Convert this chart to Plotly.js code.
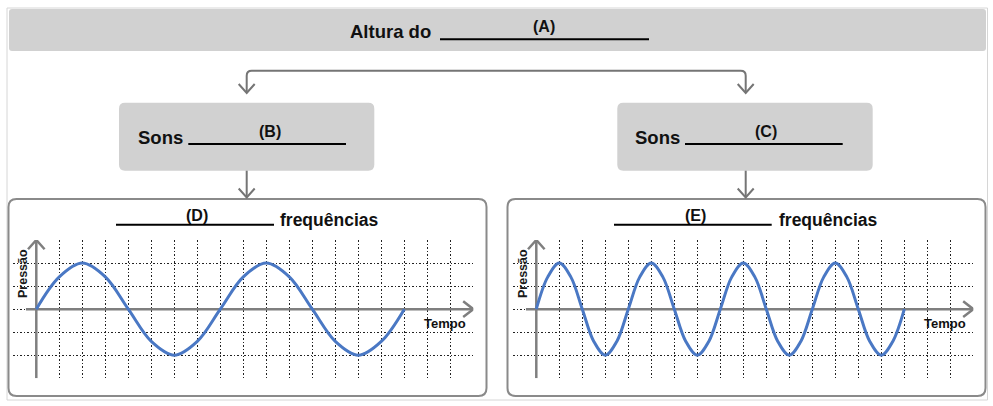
<!DOCTYPE html>
<html>
<head>
<meta charset="utf-8">
<script src="https://cdn.plot.ly/plotly-3.0.1.min.js"></script>
<style>body{margin:0;background:#fff}#chart{width:993px;height:406px}</style>
</head>
<body>
<div id="chart"></div>
<script>
// ---- data (one grid cell = 1 unit) ----
const timeD = [0,1,2,3,4,5,6,7,8,9,10,11,12,13,14,15,16];
const pressureD = [0,1.4,2,1.4,0,-1.4,-2,-1.4,0,1.4,2,1.4,0,-1.4,-2,-1.4,0];
const timeE = [0,0.5,1,1.5,2,2.5,3,3.5,4,4.5,5,5.5,6,6.5,7,7.5,8,8.5,9,9.5,10,10.5,11,11.5,12,12.5,13,13.5,14,14.5,15,15.5,16];
const pressureE = [0,1.4,2,1.4,0,-1.4,-2,-1.4,0,1.4,2,1.4,0,-1.4,-2,-1.4,0,1.4,2,1.4,0,-1.4,-2,-1.4,0,1.4,2,1.4,0,-1.4,-2,-1.4,0];
const topText = 'Altura do';
const soundText = 'Sons';
const freqText = 'frequências';
const blankLabels = ['(A)','(B)','(C)','(D)','(E)'];
const yAxisLabel = 'Pressão';
const xAxisLabel = 'Tempo';

const W = 993, H = 406;
const px = x => x / W;
const py = y => 1 - y / H;
const pt = (x, y) => px(x).toFixed(5) + ',' + py(y).toFixed(5);
function rrect(x0, y0, x1, y1, r) {
  return 'M' + pt(x0 + r, y0) + 'L' + pt(x1 - r, y0) + 'Q' + pt(x1, y0) + ' ' + pt(x1, y0 + r) +
    'L' + pt(x1, y1 - r) + 'Q' + pt(x1, y1) + ' ' + pt(x1 - r, y1) +
    'L' + pt(x0 + r, y1) + 'Q' + pt(x0, y1) + ' ' + pt(x0, y1 - r) +
    'L' + pt(x0, y0 + r) + 'Q' + pt(x0, y0) + ' ' + pt(x0 + r, y0) + 'Z';
}
const GREY = '#757575';
const shapes = [];
function pshape(path, opts) {
  shapes.push(Object.assign({type: 'path', xref: 'paper', yref: 'paper', path: path, layer: 'below'}, opts));
}
function pline(x0, y0, x1, y1, color, width) {
  shapes.push({type: 'line', xref: 'paper', yref: 'paper', x0: px(x0), y0: py(y0), x1: px(x1), y1: py(y1),
    line: {color: color, width: width}, layer: 'below'});
}
// outer frame
shapes.push({type: 'rect', xref: 'paper', yref: 'paper', x0: px(7), x1: px(987.5), y0: py(400), y1: py(8),
  line: {color: '#d6d6d6', width: 1}, layer: 'below'});
// grey boxes
pshape(rrect(9, 9, 986, 51, 3), {fillcolor: '#d1d1d1', line: {width: 0}});
pshape(rrect(119, 102.7, 374.3, 170.7, 6), {fillcolor: '#d1d1d1', line: {width: 0}});
pshape(rrect(617.3, 102.7, 872.7, 170.7, 6), {fillcolor: '#d1d1d1', line: {width: 0}});
// chart panels
pshape(rrect(8.5, 199, 486.5, 396, 8), {fillcolor: 'rgba(0,0,0,0)', line: {color: '#8a8a8a', width: 2}});
pshape(rrect(507.5, 199, 985.5, 396, 8), {fillcolor: 'rgba(0,0,0,0)', line: {color: '#8a8a8a', width: 2}});
// blanks (underlines)
pline(440, 39.3, 649, 39.3, '#000', 2);
pline(188.3, 144, 346, 144, '#000', 2);
pline(685, 144, 842.7, 144, '#000', 2);
pline(116, 224.7, 274, 224.7, '#000', 2);
pline(614, 224.7, 771.7, 224.7, '#000', 2);
// connectors
const lx = 246.7, rx = 745.7, by = 70.7;
pshape('M' + pt(lx, 92) + 'L' + pt(lx, by + 5) + 'Q' + pt(lx, by) + ' ' + pt(lx + 5, by) +
  'L' + pt(rx - 5, by) + 'Q' + pt(rx, by) + ' ' + pt(rx, by + 5) + 'L' + pt(rx, 92),
  {line: {color: GREY, width: 2}});
function chevronDown(x, tipY) {
  pshape('M' + pt(x - 8, tipY - 9) + 'L' + pt(x, tipY) + 'L' + pt(x + 8, tipY - 9), {line: {color: GREY, width: 2}});
}
chevronDown(lx, 93); chevronDown(rx, 93);
pline(lx, 170.7, lx, 197, GREY, 2); pline(rx, 170.7, rx, 197, GREY, 2);
chevronDown(lx, 197.5); chevronDown(rx, 197.5);

// axis arrows in data units of each sub-chart
function axisShapes(xr, yr) {
  const s = {xref: xr, yref: yr, layer: 'between', line: {color: '#7f7f7f', width: 2.5}};
  shapes.push(Object.assign({type: 'line', x0: 0, x1: 0, y0: -3, y1: 3}, s));
  shapes.push(Object.assign({type: 'path', path: 'M-0.36,2.6L0,3L0.36,2.6'}, s));
  shapes.push(Object.assign({type: 'line', x0: -0.45, x1: 19, y0: 0, y1: 0}, s));
  shapes.push(Object.assign({type: 'path', path: 'M18.56,0.34L19,0L18.56,-0.34'}, s));
}
axisShapes('x', 'y');
axisShapes('x2', 'y2');

const annotations = [];
function ann(text, x, y, xanchor, size, family, extra) {
  annotations.push(Object.assign({xref: 'paper', yref: 'paper', x: px(x), y: py(y), xanchor: xanchor, yanchor: 'middle',
    text: text, showarrow: false, font: {family: family, size: size, color: '#111', weight: 700}}, extra || {}));
}
const SANS = '"Liberation Sans", Arial, sans-serif';
ann(topText, 347.5, 31.4, 'left', 18.5, SANS);
ann(soundText, 136, 137, 'left', 18.5, SANS);
ann(soundText, 632.5, 137, 'left', 18.5, SANS);
ann(blankLabels[0], 544.3, 26, 'center', 16, SANS);
ann(blankLabels[1], 270, 131.5, 'center', 16, SANS);
ann(blankLabels[2], 766, 131.5, 'center', 16, SANS);
ann(blankLabels[3], 196.7, 215.5, 'center', 16, SANS);
ann(blankLabels[4], 695, 215.5, 'center', 16, SANS);
ann(freqText, 278, 219.8, 'left', 17.5, SANS);
ann(freqText, 776.5, 219.8, 'left', 17.5, SANS);
[0, 500].forEach(off => {
  ann(yAxisLabel, 23 + off, 274, 'center', 12.5, SANS, {textangle: -90, font: {family: SANS, size: 12.5, color: '#1a1a1a', weight: 700}});
  ann(xAxisLabel, 444.5 + off, 323.3, 'center', 13, SANS, {font: {family: SANS, size: 13, color: '#111', weight: 700}});
});

const yDom = [1 - 378.3 / H, 1 - 240 / H];
const GRID = {showgrid: true, gridcolor: '#222222', griddash: '1.5px,2px', gridwidth: 1, zeroline: false,
  showline: false, ticks: '', showticklabels: false, fixedrange: true};
const ax = (dom, anchor) => Object.assign({domain: dom, anchor: anchor, range: [-1, 19], dtick: 1, tick0: 0}, GRID);
const ay = (anchor) => Object.assign({domain: yDom, anchor: anchor, range: [-3, 3], dtick: 1, tick0: 0}, GRID);

const traces = [
  {x: timeD, y: pressureD, xaxis: 'x', yaxis: 'y', type: 'scatter', mode: 'lines',
   line: {color: '#4a78c4', width: 3, shape: 'spline', smoothing: 1}, hoverinfo: 'skip'},
  {x: timeE, y: pressureE, xaxis: 'x2', yaxis: 'y2', type: 'scatter', mode: 'lines',
   line: {color: '#4a78c4', width: 3, shape: 'spline', smoothing: 1}, hoverinfo: 'skip'}
];

const layout = {
  width: W, height: H, margin: {l: 0, r: 0, t: 0, b: 0},
  paper_bgcolor: '#ffffff', plot_bgcolor: 'rgba(0,0,0,0)', showlegend: false,
  xaxis: ax([13.3 / W, 473.3 / W], 'y'),
  yaxis: ay('x'),
  xaxis2: ax([513.3 / W, 973.3 / W], 'y2'),
  yaxis2: ay('x2'),
  shapes: shapes, annotations: annotations
};
Plotly.newPlot('chart', traces, layout, {staticPlot: true, displayModeBar: false});
</script>
</body>
</html>
